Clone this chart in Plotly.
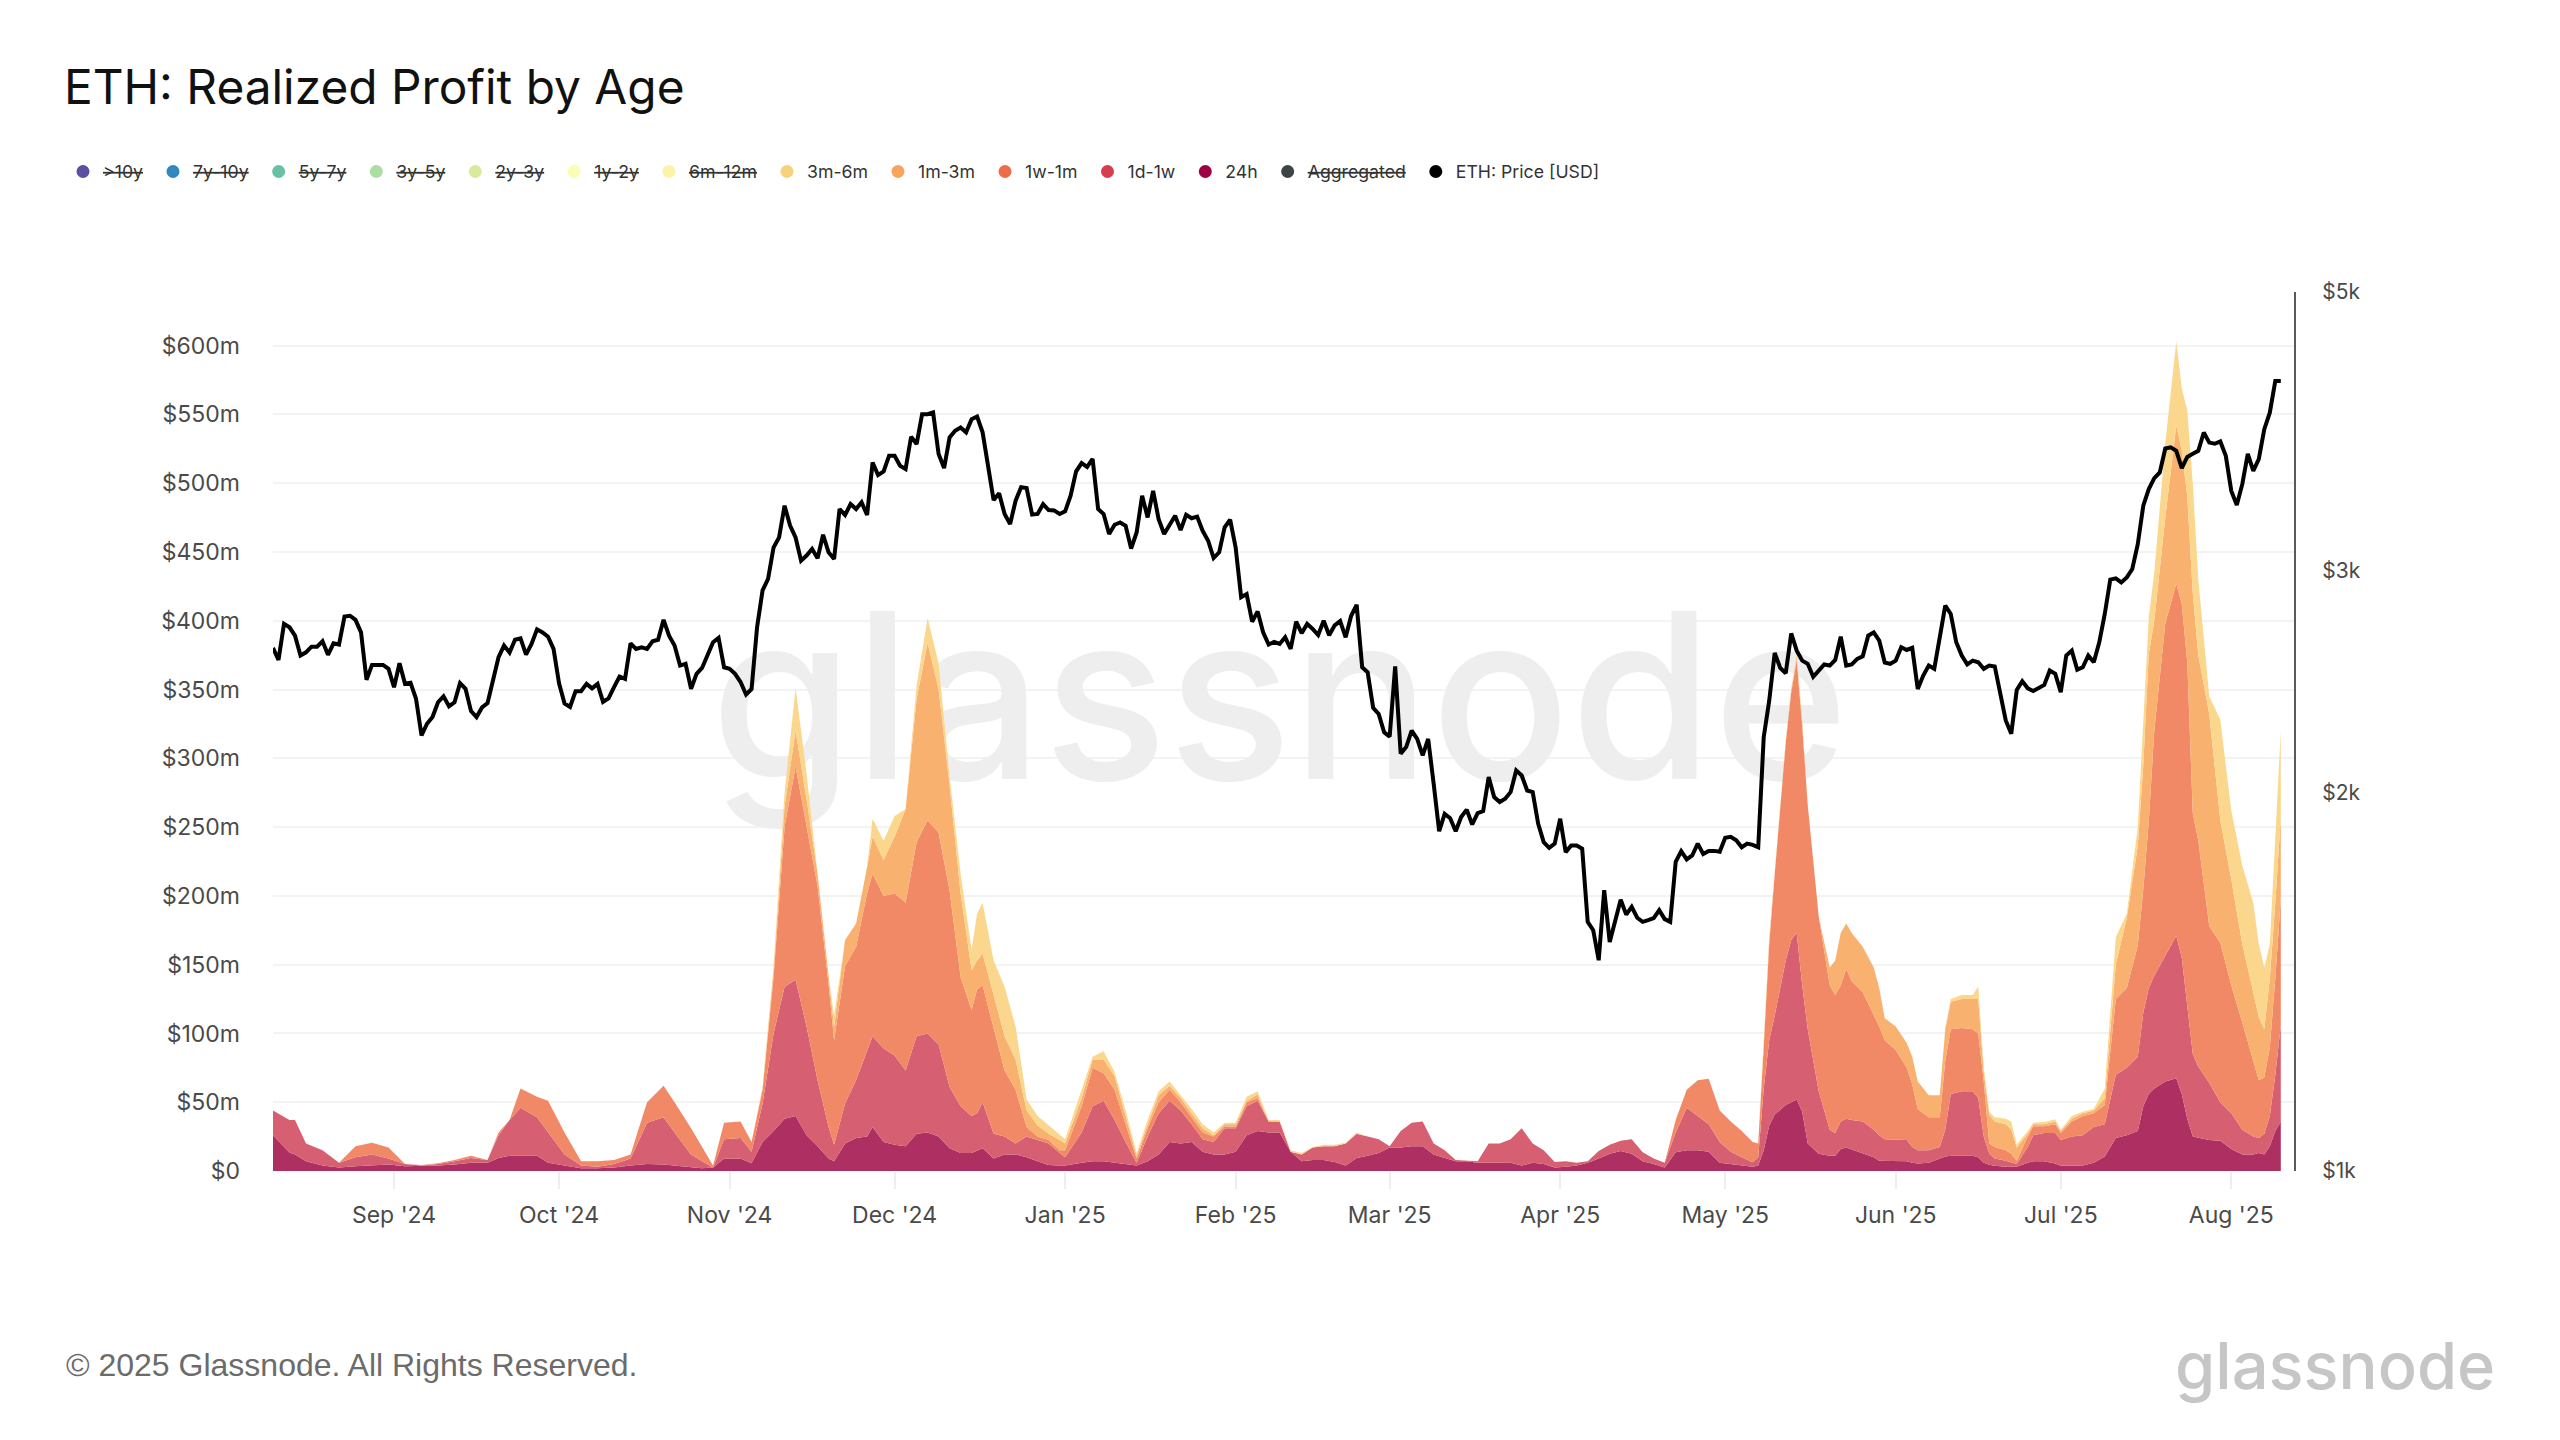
import numpy as np
import pandas as pd
import plotly.graph_objects as go

start_date = pd.Timestamp('2024-08-10')

eth_price = [
    2606, 2549, 2723, 2706, 2665, 2570, 2585, 2612, 2612, 2638, 2573, 2628, 2622, 2760, 2764, 2743, 2681, 2458, 2526, 2526,
    2526, 2508, 2425, 2534, 2440, 2445, 2374, 2220, 2268, 2296, 2359, 2385, 2342, 2359, 2443, 2418, 2321, 2296, 2337, 2355,
    2462, 2562, 2617, 2584, 2645, 2652, 2574, 2625, 2696, 2681, 2660, 2601, 2442, 2354, 2339, 2407, 2407, 2440, 2420, 2440,
    2361, 2376, 2425, 2473, 2462, 2628, 2601, 2609, 2601, 2638, 2645, 2743, 2665, 2617, 2523, 2531, 2418,
    2485, 2512, 2578, 2633, 2654, 2515, 2508, 2485, 2448, 2393, 2417, 2706, 2895, 2957, 3132, 3190, 3381, 3260, 3190, 3057,
    3086, 3123, 3071, 3206, 3104, 3067, 3360, 3324, 3391, 3360, 3402, 3324, 3659, 3576, 3600, 3704, 3704, 3637, 3615, 3836,
    3785, 3998, 3998, 4011, 3716, 3622, 3831, 3878, 3901, 3867, 3961, 3981, 3867, 3627, 3416, 3458, 3330, 3269, 3412, 3497,
    3492, 3326, 3330, 3391, 3354, 3352, 3330, 3346, 3443, 3600, 3655, 3630, 3683, 3360,
    3330, 3210, 3265, 3279, 3259, 3126, 3219, 3443, 3309, 3474, 3299, 3210, 3265, 3319, 3233, 3325, 3304, 3314, 3229, 3171,
    3072, 3104, 3249, 3295, 3132, 2859, 2876, 2734, 2786, 2681, 2622, 2635, 2625, 2657, 2601, 2734, 2677, 2723, 2698, 2668,
    2739, 2667, 2716, 2737, 2657, 2764, 2820, 2515, 2492, 2335, 2309, 2233, 2215, 2519, 2147, 2173, 2240, 2206, 2140, 2206,
    2032, 1863, 1923, 1908, 1863, 1912, 1938, 1886, 1926, 1933, 2057, 1983, 1965, 1977, 2002,
    2082, 2063, 2007, 2001, 1888, 1826, 1807, 1821, 1906, 1793, 1815, 1815, 1804, 1578, 1554, 1471, 1672, 1521, 1578, 1643,
    1599, 1622, 1590, 1578, 1583, 1589, 1612, 1586, 1578, 1761, 1796, 1769, 1782, 1821, 1787, 1797, 1797, 1794, 1841, 1844,
    1832, 1809, 1821, 1817, 1809, 2213, 2366, 2582, 2512, 2488, 2676, 2593, 2546, 2531, 2472, 2500, 2528, 2523, 2549, 2660,
    2523, 2528, 2554, 2566, 2665, 2681, 2641, 2537, 2531, 2546, 2609, 2596, 2606, 2417,
    2477, 2523, 2508, 2657, 2816, 2773, 2633, 2570, 2528, 2546, 2538, 2508, 2523, 2519, 2395, 2282, 2227, 2413, 2452, 2420,
    2408, 2422, 2435, 2500, 2485, 2403, 2570, 2593, 2504, 2515, 2570, 2538, 2633, 2773, 2953, 2960, 2938, 2965, 3011, 3151,
    3381, 3485, 3556, 3593, 3754, 3762, 3738, 3622, 3697, 3718, 3738, 3866, 3795, 3787, 3803, 3704, 3474, 3385, 3517, 3718,
    3604, 3682, 3889, 4009, 4249, 4249,
]

# days after start_date where the stack edges were read
area_days = [
    0, 3, 4, 6, 9, 12, 15, 18, 21, 24,
    27, 30, 33, 36, 39, 41, 43, 45, 48, 50,
    53, 56, 59, 62, 65, 68, 71, 73, 76, 78,
    80, 82, 85, 87, 89, 91, 93, 95, 97, 99,
    101, 102, 104, 106, 108, 109, 111, 113, 115, 117,
    119, 121, 123, 125, 127, 128, 129, 131, 133, 135,
    137, 139, 141, 143, 144, 147, 149, 151, 153, 155,
    157, 159, 161, 163, 165, 167, 169, 171, 173, 175,
    177, 179, 181, 183, 185, 187, 189, 191, 193, 195,
    197, 199, 201, 203, 205, 207, 209, 211, 213, 215,
    217, 219, 221, 223, 225, 227, 229, 231, 233, 235,
    237, 239, 241, 243, 245, 247, 249, 251, 253, 255,
    257, 259, 261, 263, 265, 267, 269, 270, 271, 272,
    273, 275, 276, 277, 278, 279, 281, 283, 284, 285,
    286, 287, 289, 291, 292, 293, 295, 297, 298, 299,
    301, 303, 304, 305, 307, 309, 310, 311, 312, 313,
    315, 316, 317, 319, 320, 322, 324, 325, 327, 329,
    331, 333, 335, 337, 339, 340, 341, 342, 344, 346,
    347, 348, 349, 350, 352, 354, 356, 358, 360, 361,
    362, 363, 364, 365,
]

# running totals of the stack in $m, one list per visible age band
total_24h = [
    26, 13.5, 12, 7, 4, 2.5, 3.5, 4, 4.7, 3.5,
    3.5, 4, 4.7, 6, 6, 9.5, 11, 11, 11, 6,
    4, 2, 2, 2.5, 4, 5, 4.7, 4, 2.5, 2,
    2.5, 9, 9, 5.6, 21, 29, 38, 40, 26, 18,
    9, 7, 20, 24, 25, 32, 21, 19, 18, 27,
    28, 25, 16.5, 13, 13, 15, 16.5, 9, 12, 12,
    10, 7, 4.4, 4, 4, 6, 7, 7, 6, 5,
    4, 7, 12, 21, 20, 21, 14, 12, 12, 14,
    26, 29, 28, 28, 14, 7, 8, 8, 6.6, 4,
    9.5, 11, 13, 17, 17, 18, 18, 12, 9.5, 7,
    7, 6, 6, 6, 6, 4, 6, 5, 2.5, 3,
    4, 6, 9, 12.6, 14.5, 12.6, 7, 5, 2.5, 13.6,
    15, 15, 14, 6, 5, 4, 3, 4, 15, 33,
    41, 48, 50, 52, 43, 20, 12.5, 11, 11, 16,
    17, 15.5, 13, 10, 7.5, 7.5, 7, 7, 6, 5.5,
    6, 9, 10.5, 11, 11, 11, 10, 6, 4.5, 3.8,
    3, 3, 3, 6, 7, 7, 5.5, 3.8, 4, 4,
    6, 10.6, 24, 26, 29, 47, 56, 60, 65, 67.5,
    56, 38, 25, 24, 22.5, 22, 16, 12, 12, 13,
    12, 18, 29, 36,
]
total_1d_1w = [
    44, 37, 37, 20, 15, 6, 10, 12, 9, 5,
    4, 5, 7, 9.5, 8, 26, 37, 46, 39, 28,
    12, 4, 3, 5, 9, 35, 39, 28, 12, 7,
    2.5, 23, 24, 14, 49, 100, 134, 139, 105, 66,
    32, 19, 49, 66, 88, 98, 89, 84, 73, 98,
    100, 92, 61, 47, 40, 42, 50, 27, 25, 20,
    25, 22.5, 20, 13, 10, 28, 47, 51, 37, 21,
    6, 25, 42, 51, 44, 34, 23, 21, 31, 31,
    47, 51, 36, 36, 14, 12, 17, 18, 18, 20,
    27, 25, 23, 18, 29, 35, 36, 20, 15, 8,
    7.5, 7, 20, 20, 23, 31, 20, 15, 6.6, 7,
    6, 7, 14.5, 19, 22, 23, 13.6, 9, 6, 28,
    46, 40, 34, 21, 14, 10, 6.3, 10, 60, 95,
    113, 153, 168, 173, 135, 103, 58, 30, 27.6, 36,
    38, 37, 36, 30, 26, 23, 23, 22.6, 17.5, 15,
    15, 17.5, 30, 56, 58, 58, 53, 25, 12.5, 9,
    7.5, 6, 5, 17.5, 26, 27.6, 27.6, 22.6, 25, 26,
    32, 34, 70, 75, 83, 115, 133, 142, 157, 171,
    155, 119, 85, 76, 64, 50, 42, 30, 25, 24,
    27, 40, 70, 106,
]
total_1w_1m = [
    44, 37, 37, 20, 15, 6, 18, 20.5, 17, 5,
    4.4, 5.7, 8, 11, 8, 28, 37, 60, 54, 51,
    28, 7, 7, 8, 12, 50, 62, 50, 31, 18,
    4, 35, 36, 21, 59, 141, 250, 294, 250, 207,
    136, 95, 149, 163, 202, 216, 200, 202, 195, 239,
    255, 246, 204, 141, 117, 132, 135, 105, 73, 59,
    32, 25, 22.5, 15, 15, 47, 75, 71, 59, 34,
    9, 31, 50, 59, 50, 39, 28, 25, 32.5, 32,
    50, 53, 36, 36, 14, 12, 17, 18, 18, 20,
    27, 25, 23, 18, 29, 35, 36, 20, 15, 8,
    7.5, 7, 20, 20, 23, 31, 20, 15, 6.6, 7,
    6, 7, 14.5, 19, 22, 23, 13.6, 9, 6, 37,
    59, 66, 67, 44, 36, 29, 21, 20, 90, 165,
    216, 311, 348, 371, 323, 266, 185, 135, 128, 135,
    147, 138, 130, 113, 105, 95, 88, 75, 63, 45,
    39, 39, 80, 103, 104, 103, 100, 65, 20, 17.5,
    15, 12.5, 7.5, 25, 32.6, 32.6, 34, 27.6, 36, 40,
    42, 48, 125, 133, 164, 205, 254, 320, 398, 427,
    412, 370, 260, 240, 178, 166, 135, 108, 80, 66,
    68, 90, 140, 198,
]
total_1m_3m = [
    44, 37, 37, 20, 15, 6, 18, 20.5, 17, 5,
    4.4, 5.7, 8, 11, 8, 28, 37, 60, 54, 51,
    28, 7, 7, 8, 12, 50, 62, 50, 31, 18,
    4, 35, 36, 21, 60, 146, 265, 320, 270, 216,
    139, 105, 168, 180, 221, 243, 226, 243, 263, 343,
    384, 350, 280, 202, 146, 153, 158, 127, 98, 81,
    44, 33, 27, 22.5, 20, 53, 81, 81, 69, 40,
    11, 34, 55, 62, 53, 42, 31, 26, 34, 34,
    51, 55.6, 36, 36, 14, 12, 17, 18, 18, 20,
    27, 25, 23, 18, 29, 35, 36, 20, 15, 8,
    7.5, 7, 20, 20, 23, 31, 20, 15, 6.6, 7,
    6, 7, 14.5, 19, 22, 23, 13.6, 9, 6, 37,
    59, 66, 67, 44, 36, 29, 21, 20, 93, 168,
    217, 312, 350, 373, 326, 266, 185, 148, 153, 173,
    180, 173, 163, 148, 133, 111, 105, 93, 83, 65,
    55, 55, 103, 123, 125, 125, 125, 72, 41, 36,
    34, 30, 17, 27, 34, 34, 36, 29, 38, 42,
    44, 53, 150, 184, 236, 295, 376, 400, 475, 542,
    524, 490, 420, 375, 332, 255, 212, 165, 130, 112,
    103, 140, 195, 257,
]
total_3m_6m = [
    44, 37, 37, 20, 15, 6, 18, 20.5, 17, 5,
    4.4, 5.7, 8, 11, 8, 28, 37, 60, 54, 51,
    28, 7, 7, 8, 12, 50, 62, 50, 31, 18,
    4, 35, 36, 21, 61, 149, 275, 351, 289, 216,
    141, 113, 168, 180, 221, 256, 240, 258, 263, 353,
    402, 369, 287, 216, 161, 187, 195, 153, 134, 105,
    52, 40, 33, 26, 23, 59, 83, 87, 72, 44,
    13, 37, 58, 65, 55, 45, 34, 28, 35, 35,
    54, 58, 37, 37, 15, 13, 17.4, 19, 19, 20.5,
    28, 25, 23, 18, 29, 35, 36, 20, 15, 8,
    7.5, 7, 20, 20, 23, 31, 20, 15, 6.6, 7,
    6, 7, 14.5, 19, 22, 23, 13.6, 9, 6, 37,
    59, 66, 67, 44, 36, 29, 21, 20, 95, 170,
    218, 313, 351, 376, 328, 266, 185, 148, 153, 173,
    180, 173, 163, 148, 133, 111, 105, 93, 83, 65,
    55, 55, 104, 125, 128, 128, 134, 75, 43, 39,
    38, 36, 19, 29, 35, 35.6, 37.6, 30, 40, 43,
    45, 60, 170, 187, 250, 322, 403, 435, 529, 603,
    569, 553, 500, 430, 345, 328, 262, 222, 195, 165,
    148, 165, 245, 320,
]

profit_ticks = list(range(0, 601, 50))
profit_labels = ['$0'] + ['$%dm' % v for v in profit_ticks[1:]]
price_ticks = [1000, 2000, 3000, 5000]
price_labels = ['$1k', '$2k', '$3k', '$5k']

legend_names = ['>10y', '7y-10y', '5y-7y', '3y-5y', '2y-3y', '1y-2y', '6m-12m', '3m-6m', '1m-3m',
                '1w-1m', '1d-1w', '24h', 'Aggregated', 'ETH: Price [USD]']
legend_colors = ['#5e4fa2', '#3288bd', '#66c2a5', '#abdda4', '#d9ea9c', '#fbfdb5', '#fdf3a6', '#f6d27c', '#f9a45c',
                 '#ef6c4a', '#d53e4f', '#9e0142', '#3c4447', '#000000']
struck_names = ['>10y', '7y-10y', '5y-7y', '3y-5y', '2y-3y', '1y-2y', '6m-12m', 'Aggregated']

stack_totals = [total_24h, total_1d_1w, total_1w_1m, total_1m_3m, total_3m_6m]
stack_colors = ['#ae3063', '#d65f71', '#f18967', '#f8b16e', '#fbd78d']

W, H = 2560, 1440
FONT = 'Inter'
PAGE_MARGIN = 8  # default body margin of the page that write_html makes


def px_x(x):
    return (x - PAGE_MARGIN) / W


def px_y(y):
    return 1 - (y - PAGE_MARGIN) / H


area_dates = start_date + pd.to_timedelta(np.array(area_days), unit='D')
price_dates = pd.date_range(start_date, periods=len(eth_price), freq='D')

fig = go.Figure()

# watermark sits in the trace layer so the areas cover it
fig.add_trace(go.Scatter(x=[pd.Timestamp('2025-02-09')], y=[327], mode='text', text=['glassnode'],
                         textfont=dict(family=FONT, size=231, color='#eeeeee', weight=500), cliponaxis=False,
                         showlegend=False, hoverinfo='skip'))

for i, (total, color) in enumerate(zip(stack_totals, stack_colors)):
    fig.add_trace(go.Scatter(x=area_dates, y=total, mode='lines', line=dict(width=0, color=color),
                             fill='tozeroy' if i == 0 else 'tonexty', fillcolor=color, showlegend=False))

fig.add_trace(go.Scatter(x=price_dates, y=eth_price, yaxis='y2', mode='lines',
                         line=dict(color='#000000', width=4), showlegend=False))

# dots only for the legend, hidden bands have their label struck through
for name, color in zip(legend_names, legend_colors):
    label = name.replace('>', '&gt;')
    if name in struck_names:
        label = '<span style="text-decoration:line-through">%s</span>' % label
    fig.add_trace(go.Scatter(x=[None], y=[None], mode='markers', name=label + '\u00a0',
                             marker=dict(color=color, size=13)))

fig.update_layout(
    width=W, height=H,
    margin=dict(l=0, r=0, t=0, b=0, autoexpand=False),
    paper_bgcolor='#ffffff', plot_bgcolor='#ffffff',
    font=dict(family=FONT, color='#4a4a4a'),
    title=dict(text='ETH: Realized Profit by Age', x=px_x(64), xanchor='left', y=px_y(87), yanchor='middle',
               font=dict(family=FONT, size=47.8, color='#111111')),
    legend=dict(orientation='h', x=px_x(63), xanchor='left', y=px_y(172), yanchor='middle',
                font=dict(family=FONT, size=17.7, color='#333333'), traceorder='normal',
                bgcolor='rgba(0,0,0,0)', itemwidth=30),
    xaxis=dict(domain=[px_x(273), px_x(2294)], type='date',
               range=[start_date, start_date + pd.Timedelta(days=367.4)],
               tick0='2024-09-01', dtick='M1', tickformat="%b '%y",
               showgrid=False, zeroline=False, showline=False,
               ticks='outside', ticklen=17, tickwidth=2, tickcolor='#eeeeee',
               ticklabelstandoff=6,
               tickfont=dict(family=FONT, size=23, color='#4a4a4a')),
    yaxis=dict(domain=[px_y(1171), px_y(292)], range=[0, 639], tickmode='array',
               tickvals=profit_ticks, ticktext=profit_labels,
               showgrid=True, gridcolor='#f3f3f3', gridwidth=2, zeroline=False, showline=False,
               ticklabelstandoff=32,
               tickfont=dict(family=FONT, size=23, color='#4a4a4a')),
    yaxis2=dict(overlaying='y', side='right', anchor='x', type='log', range=[3, np.log10(5000)],
                tickmode='array', tickvals=price_ticks, ticktext=price_labels,
                showgrid=False, zeroline=False, showline=True, linecolor='#5a5a5a', linewidth=2,
                ticklabelstandoff=22,
                tickfont=dict(family=FONT, size=21, color='#4a4a4a')),
    annotations=[
        dict(text='© 2025 Glassnode. All Rights Reserved.', xref='paper', yref='paper',
             x=px_x(64), y=px_y(1365), xanchor='left', yanchor='middle', showarrow=False,
             font=dict(family='Liberation Sans', size=32, color='#6b6b6b')),
        dict(text='glassnode', xref='paper', yref='paper',
             x=px_x(2497), y=px_y(1365), xanchor='right', yanchor='middle', showarrow=False,
             font=dict(family=FONT, size=65, color='#c6c6c6', weight=500)),
    ],
)

fig.write_html('out.html')
